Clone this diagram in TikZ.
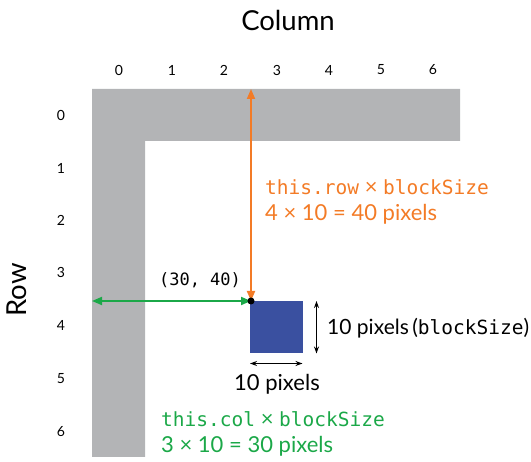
\documentclass[tikz,border=0pt]{standalone}
\usepackage{fontspec}
\setmainfont{Lato}
\setmonofont{DejaVu Sans Mono}
\usepackage{tikz}
\usetikzlibrary{arrows.meta,positioning}

\definecolor{gridgray}{HTML}{B3B4B6}
\definecolor{rowcolor}{HTML}{F37B26}
\definecolor{colcolor}{HTML}{1BA848}
\definecolor{blockblue}{HTML}{3A50A0}
\newcommand{\codetxt}[1]{{\ttfamily\fontsize{19.5}{27}\selectfont #1}}

\begin{document}
\begin{tikzpicture}[x=1pt, y=-1pt,
  idx/.style={font=\fontsize{14}{16}\selectfont},
  axis title/.style={font=\fontsize{27.5}{30}\selectfont},
  dim/.style={<->, >={Stealth[length=7pt, width=5pt]}, line width=1.3pt},
  offset/.style={<->, >={Triangle[length=10pt, width=8pt]}, line width=1.8pt},
  label/.style={font=\fontsize{22}{26}\selectfont, align=left, anchor=west, inner sep=0pt},
  blockbox/.style={fill=blockblue, minimum size=52.5pt, inner sep=0pt, outer sep=0pt}]
\path[use as bounding box] (0,0) rectangle (531,462);
% grey border of the grid
\fill[gridgray] (92,89) -- (460,89) -- (460,141) -- (145,141) -- (145,457) -- (92,457) -- cycle;
\node[axis title] (coltitle) at (288,20) {Column};
\node[axis title, rotate=90] (rowtitle) at (17,290) {Row};
\node[idx] (c0) at (119,70) {0};
\node[idx] (c1) at (172,70) {1};
\node[idx] (c2) at (224,70) {2};
\node[idx] (c3) at (277,70) {3};
\node[idx] (c4) at (329,70) {4};
\node[idx] (c5) at (381,70) {5};
\node[idx] (c6) at (433,70) {6};
\node[idx] (r0) at (61,115) {0};
\node[idx] (r1) at (61,168) {1};
\node[idx] (r2) at (61,220) {2};
\node[idx] (r3) at (61,272) {3};
\node[idx] (r4) at (61,325) {4};
\node[idx] (r5) at (61,379) {5};
\node[idx] (r6) at (61,432) {6};
\coordinate (corner) at (251,301);
\coordinate (gridtop) at (251,89);
\coordinate (gridleft) at (92,301);
\node[blockbox, anchor=north west] (block) at (250,301) {};
\draw[offset, rowcolor] (gridtop) -- (corner);
\draw[offset, colcolor] (gridleft) -- (corner);
\fill (corner) circle (3.5pt);
\node[font=\ttfamily\fontsize{17}{20}\selectfont] (pos) at (200,280) {(30, 40)};
\draw[dim] ([xshift=14pt]block.north east) -- ([xshift=14pt]block.south east);
\draw[dim] ([yshift=-10pt]block.south west) -- ([yshift=-10pt]block.south east);
\node[label, font=\fontsize{21}{24}\selectfont] (height) at (327,328) {10 pixels\,(\codetxt{blockSize})};
\node[font=\fontsize{22}{24}\selectfont] (width) at (277,384) {10 pixels};
\node[label, text=rowcolor] (rowcalc) at (265,202) {\codetxt{this.row} × \codetxt{blockSize}\\4 × 10 = 40 pixels};
\node[label, text=colcolor] (colcalc) at (161,434) {\codetxt{this.col} × \codetxt{blockSize}\\3 × 10 = 30 pixels};
\end{tikzpicture}
\end{document}
